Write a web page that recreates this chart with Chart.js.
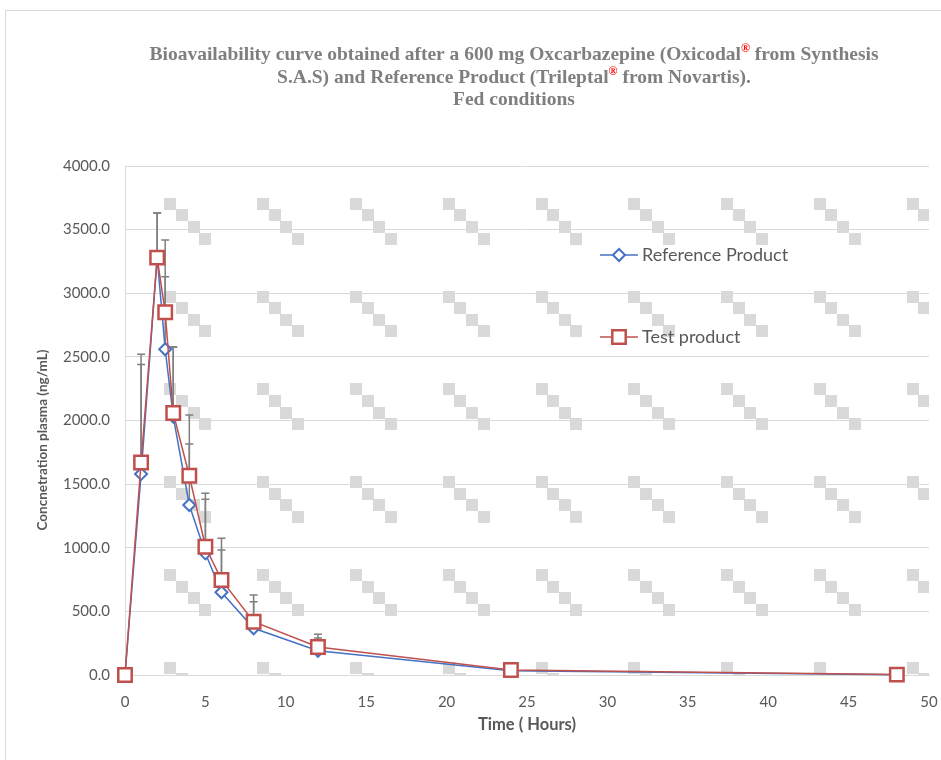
<!DOCTYPE html>
<html>
<head>
<meta charset="utf-8">
<script src="https://cdn.jsdelivr.net/npm/chart.js@4.4.1/dist/chart.umd.min.js"></script>
<style>
  html, body { margin: 0; padding: 0; background: #fff; }
  canvas { display: block; }
</style>
</head>
<body>
<canvas id="pkChart" width="941" height="760"></canvas>
<script>
// sampling times (hours)
const times = [0, 1, 2, 2.5, 3, 4, 5, 6, 8, 12, 24, 48];
// mean plasma concentrations (ng/mL)
const refMean = [0, 1580, 3280, 2560, 2030, 1336, 956, 650, 367, 190, 33, 2];
const testMean = [0, 1670, 3280, 2850, 2059, 1566, 1008, 747, 419, 220, 39, 3];
// upper error bars (SD)
const refSD = [0, 860, 350, 570, 547, 480, 425, 332, 209, 100, 57, 0];
const testSD = [0, 850, 350, 568, 518, 477, 420, 327, 210, 100, 50, 0];
const seriesNames = ['Reference Product', 'Test product'];
const xTicks = { min: 0, max: 50, step: 5 };
const yTicks = { min: 0, max: 4000, step: 500 };

const titleLines = [
  ['Bioavailability curve obtained after a 600 mg Oxcarbazepine (Oxicodal', '®', ' from Synthesis'],
  ['S.A.S) and Reference Product (Trileptal', '®', ' from Novartis).'],
  ['Fed conditions']
];
const yTitle = 'Concnetration plasma (ng/mL)';
const xTitle = 'Time ( Hours)';

const BLUE = '#4472C4';
const RED = '#C0504D';
const GREY = '#595959';

const toPts = (ys) => times.map((t, i) => ({ x: t, y: ys[i] }));

function drawMarker(ctx, kind, x, y, color) {
  ctx.save();
  ctx.fillStyle = '#fff';
  ctx.strokeStyle = color;
  ctx.beginPath();
  if (kind === 'diamond') {
    ctx.lineWidth = 2;
    ctx.moveTo(x - 6, y); ctx.lineTo(x, y - 6); ctx.lineTo(x + 6, y); ctx.lineTo(x, y + 6);
    ctx.closePath();
  } else {
    ctx.lineWidth = 2.5;
    ctx.rect(x - 6.7, y - 6.7, 13.4, 13.4);
  }
  ctx.fill();
  ctx.stroke();
  ctx.restore();
}

const decor = {
  id: 'decor',
  beforeDraw(chart) {
    const ctx = chart.ctx;
    ctx.save();
    ctx.fillStyle = '#fff';
    ctx.fillRect(0, 0, chart.width, chart.height);
    // outer chart border
    ctx.strokeStyle = '#d9d9d9';
    ctx.lineWidth = 1;
    ctx.strokeRect(5.5, 10.5, chart.width + 20, chart.height + 20);

    // title with red registered marks
    const cx = 514;
    const lineY = [55, 78, 100];
    const mainFont = 'bold 19.5px "Liberation Serif", "Times New Roman", serif';
    const supFont = 'bold 12px "Liberation Serif", "Times New Roman", serif';
    ctx.textBaseline = 'middle';
    titleLines.forEach((parts, li) => {
      const widths = parts.map(p => {
        ctx.font = p === '®' ? supFont : mainFont;
        return ctx.measureText(p).width;
      });
      let x = cx - widths.reduce((a, b) => a + b, 0) / 2;
      parts.forEach((p, i) => {
        const sup = p === '®';
        ctx.font = sup ? supFont : mainFont;
        ctx.fillStyle = sup ? '#FF0000' : '#7F7F7F';
        ctx.textAlign = 'left';
        ctx.fillText(p, x, lineY[li] - (sup ? 6 : 0));
        x += widths[i];
      });
    });
    ctx.restore();
  },
  beforeDatasetsDraw(chart) {
    const { ctx, chartArea: a, scales } = chart;
    ctx.save();
    ctx.beginPath();
    ctx.rect(a.left, a.top, a.right - a.left, a.bottom - a.top);
    ctx.clip();
    // background pattern of small diagonal squares
    const cell = 11.6, period = cell * 8;
    ctx.fillStyle = '#d9d9d9';
    for (let gy = 197.7 - period * 2; gy < a.bottom; gy += period) {
      for (let gx = 164.3 - period * 2; gx < a.right; gx += period) {
        for (let k = 0; k < 4; k++) {
          ctx.fillRect(Math.round(gx + k * cell), Math.round(gy + k * cell), 12, 12);
        }
      }
    }
    ctx.restore();

    // error bars (upper only)
    ctx.save();
    ctx.strokeStyle = '#7F7F7F';
    ctx.lineWidth = 1.5;
    [[refMean, refSD], [testMean, testSD]].forEach(([m, sd]) => {
      times.forEach((t, i) => {
        if (!sd[i]) return;
        const x = scales.x.getPixelForValue(t);
        const y0 = scales.y.getPixelForValue(m[i]);
        const y1 = scales.y.getPixelForValue(m[i] + sd[i]);
        ctx.beginPath();
        ctx.moveTo(x, y0); ctx.lineTo(x, y1);
        ctx.moveTo(x - 4, y1); ctx.lineTo(x + 4, y1);
        ctx.stroke();
      });
    });
    ctx.restore();
  },
  afterDraw(chart) {
    const ctx = chart.ctx;
    ctx.save();
    // y axis title
    ctx.translate(43, 440);
    ctx.rotate(-Math.PI / 2);
    ctx.font = 'bold 13.5px Lato, sans-serif';
    ctx.fillStyle = GREY;
    ctx.textAlign = 'center';
    ctx.textBaseline = 'middle';
    ctx.fillText(yTitle, 0, 0);
    ctx.restore();

    // legend inside plot
    const items = [
      { name: seriesNames[0], color: BLUE, kind: 'diamond', y: 255 },
      { name: seriesNames[1], color: RED, kind: 'square', y: 337 }
    ];
    items.forEach(it => {
      ctx.save();
      ctx.strokeStyle = it.color;
      ctx.lineWidth = 1.5;
      ctx.beginPath();
      ctx.moveTo(600, it.y); ctx.lineTo(638, it.y);
      ctx.stroke();
      ctx.restore();
      drawMarker(ctx, it.kind, 619, it.y, it.color);
      ctx.save();
      ctx.font = '18px Lato, sans-serif';
      ctx.fillStyle = GREY;
      ctx.textAlign = 'left';
      ctx.textBaseline = 'middle';
      ctx.fillText(it.name, 642, it.y);
      ctx.restore();
    });
  }
};

const tickFont = { family: 'Lato', size: 15 };

new Chart(document.getElementById('pkChart'), {
  type: 'line',
  data: {
    datasets: [
      {
        label: seriesNames[0],
        data: toPts(refMean),
        borderColor: BLUE,
        borderWidth: 1.5,
        pointStyle: 'rectRot',
        pointRadius: 6,
        pointBorderWidth: 2,
        pointBackgroundColor: '#fff',
        pointBorderColor: BLUE,
        tension: 0,
        clip: false,
        order: 1
      },
      {
        label: seriesNames[1],
        data: toPts(testMean),
        borderColor: RED,
        borderWidth: 1.5,
        pointStyle: 'rect',
        pointRadius: 9.5,
        pointBorderWidth: 2.5,
        pointBackgroundColor: '#fff',
        pointBorderColor: RED,
        tension: 0,
        clip: false,
        order: 0
      }
    ]
  },
  options: {
    responsive: false,
    animation: false,
    events: [],
    layout: { padding: { top: 166, right: 12, left: 0, bottom: 0 } },
    plugins: {
      legend: { display: false },
      title: { display: false },
      tooltip: { enabled: false }
    },
    scales: {
      x: {
        type: 'linear',
        min: xTicks.min,
        max: xTicks.max,
        ticks: { stepSize: xTicks.step, padding: 18, color: GREY, font: tickFont },
        grid: { display: false, drawTicks: false },
        border: { display: true, color: '#d9d9d9', width: 1 },
        title: {
          display: true, text: xTitle, color: GREY,
          font: { family: 'Lato', size: 16.5, weight: 'bold' },
          padding: { top: 0, bottom: 25 }
        },
        afterFit(s) {
          s.height = 85;
          s.paddingLeft = 0;
          s.paddingRight = 0;
        }
      },
      y: {
        min: yTicks.min,
        max: yTicks.max,
        ticks: {
          stepSize: yTicks.step, padding: 15, color: GREY, font: tickFont,
          callback: v => v.toFixed(1)
        },
        grid: { color: '#d9d9d9', drawTicks: false },
        border: { display: true, color: '#d9d9d9', width: 1 },
        afterFit(s) {
          s.width = 125;
          s.paddingTop = 0;
          s.paddingBottom = 0;
        }
      }
    }
  },
  plugins: [decor]
});
</script>
</body>
</html>
